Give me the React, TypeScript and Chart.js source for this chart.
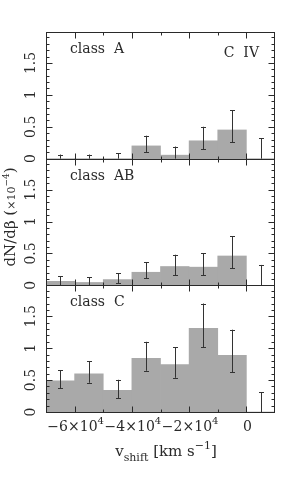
import React, { useEffect, useRef } from 'react';
import { Chart, registerables } from 'chart.js';

Chart.register(...registerables);

// ---- data ----
const binCenters = [-65000, -55000, -45000, -35000, -25000, -15000, -5000, 5000];

const classA = [0, 0, 0, 0.2, 0.055, 0.28, 0.45, 0];
const classAHi = [0.065, 0.065, 0.085, 0.36, 0.19, 0.5, 0.76, 0.32];
const classALo = [0, 0, 0, 0.105, 0, 0.15, 0.26, 0];

const classAB = [0.063, 0.045, 0.09, 0.205, 0.295, 0.285, 0.46, 0];
const classABHi = [0.14, 0.127, 0.19, 0.36, 0.48, 0.5, 0.77, 0.32];
const classABLo = [0, 0, 0.036, 0.11, 0.16, 0.16, 0.27, 0];

const classC = [0.49, 0.6, 0.34, 0.84, 0.745, 1.31, 0.89, 0];
const classCHi = [0.656, 0.797, 0.505, 1.1, 1.016, 1.7, 1.29, 0.31];
const classCLo = [0.37, 0.458, 0.219, 0.646, 0.536, 1.016, 0.62, 0];

const yTickValues = [0, 0.5, 1, 1.5];
const yTickLabels = ['0', '0.5', '1', '1.5'];
const xTickValues = [-60000, -40000, -20000, 0];
const xTickMantissa = ['\u22126', '\u22124', '\u22122', '0'];
const xTickExponent = ['4', '4', '4', ''];

const panelLabels = ['class A', 'class AB', 'class C'];
const ionLabel = 'C  IV';

const X_MIN = -70000;
const X_MAX = 10000;
const PANEL_MAX = 1.985;

const FONT = '"DejaVu Serif", "Liberation Serif", serif';
const INK = '#2a2a2a';
const BAR = '#a9a9a9';

type Part = { text: string; size: number; dy: number };

function drawRich(ctx: CanvasRenderingContext2D, parts: Part[], x: number, y: number) {
  let total = 0;
  const widths: number[] = [];
  for (const p of parts) {
    ctx.font = `${p.size}px ${FONT}`;
    const w = ctx.measureText(p.text).width;
    widths.push(w);
    total += w;
  }
  let cx = x - total / 2;
  ctx.textAlign = 'left';
  ctx.textBaseline = 'alphabetic';
  parts.forEach((p, i) => {
    ctx.font = `${p.size}px ${FONT}`;
    ctx.fillText(p.text, cx, y + p.dy);
    cx += widths[i];
  });
}

const panelDefs = [
  { id: 'yA', values: classA, hi: classAHi, lo: classALo },
  { id: 'yB', values: classAB, hi: classABHi, lo: classABLo },
  { id: 'yC', values: classC, hi: classCHi, lo: classCLo },
];

const framePlugin = {
  id: 'framePlugin',
  afterDatasetsDraw(chart: any) {
    const ctx: CanvasRenderingContext2D = chart.ctx;
    const xs = chart.scales.x;
    const left = Math.round(xs.getPixelForValue(X_MIN)) + 0.5;
    const right = Math.round(xs.getPixelForValue(X_MAX)) - 0.5;
    ctx.save();
    ctx.strokeStyle = INK;
    ctx.fillStyle = INK;
    ctx.lineWidth = 1;

    panelDefs.forEach((p, pi) => {
      const ys = chart.scales[p.id];
      const top = Math.round(ys.getPixelForValue(PANEL_MAX)) + 0.5;
      const bottom = Math.round(ys.getPixelForValue(0)) + 0.5;

      // error bars
      ctx.strokeStyle = '#333';
      ctx.lineWidth = 1;
      binCenters.forEach((c, i) => {
        const x = Math.round(xs.getPixelForValue(c)) + 0.5;
        const yh = ys.getPixelForValue(p.hi[i]);
        const yl = ys.getPixelForValue(p.lo[i]);
        ctx.beginPath();
        ctx.moveTo(x, yh);
        ctx.lineTo(x, yl);
        ctx.moveTo(x - 2.5, Math.round(yh) + 0.5);
        ctx.lineTo(x + 2.5, Math.round(yh) + 0.5);
        if (p.lo[i] > 0) {
          ctx.moveTo(x - 2.5, Math.round(yl) + 0.5);
          ctx.lineTo(x + 2.5, Math.round(yl) + 0.5);
        }
        ctx.stroke();
      });

      ctx.strokeStyle = INK;
      // frame
      ctx.lineWidth = 1;
      ctx.strokeRect(left, top, right - left, bottom - top);

      // y ticks (minor every 0.1, major every 0.5)
      ctx.beginPath();
      for (let k = 1; k <= 19; k++) {
        const v = k / 10;
        const y = Math.round(ys.getPixelForValue(v)) + 0.5;
        const len = k % 5 === 0 ? 6 : 3;
        ctx.moveTo(left, y);
        ctx.lineTo(left + len, y);
        ctx.moveTo(right, y);
        ctx.lineTo(right - len, y);
      }
      // x ticks
      for (let v = X_MIN + 10000; v < X_MAX; v += 10000) {
        const x = Math.round(xs.getPixelForValue(v)) + 0.5;
        const len = (v / 10000) % 2 === 0 ? 6 : 3;
        ctx.moveTo(x, top);
        ctx.lineTo(x, top + len);
        ctx.moveTo(x, bottom);
        ctx.lineTo(x, bottom - len);
      }
      ctx.stroke();

      // y tick labels (rotated)
      ctx.font = `14px ${FONT}`;
      yTickValues.forEach((v, i) => {
        const y = ys.getPixelForValue(v);
        ctx.save();
        ctx.translate(31, y);
        ctx.rotate(-Math.PI / 2);
        ctx.textAlign = 'center';
        ctx.textBaseline = 'middle';
        ctx.fillText(yTickLabels[i], 0, 0);
        ctx.restore();
      });

      // panel label
      ctx.font = `14px ${FONT}`;
      ctx.textAlign = 'left';
      ctx.textBaseline = 'alphabetic';
      ctx.fillText(panelLabels[pi].replace(' ', '  '), 70, top + 20.5);
      if (pi === 0) {
        ctx.textAlign = 'right';
        ctx.fillText(ionLabel, 259, top + 24.5);
      }

      // x tick labels on bottom panel
      if (pi === panelDefs.length - 1) {
        xTickValues.forEach((v, i) => {
          const x = xs.getPixelForValue(v);
          const parts: Part[] = [{ text: xTickMantissa[i], size: 14, dy: 0 }];
          if (xTickExponent[i]) {
            parts.push({ text: '\u00d710', size: 14, dy: 0 });
            parts.push({ text: xTickExponent[i], size: 10, dy: -7 });
          }
          drawRich(ctx, parts, x + 1, bottom + 18.5);
        });
      }
    });

    // x title
    drawRich(
      ctx,
      [
        { text: 'v', size: 15, dy: 0 },
        { text: 'shift', size: 11, dy: 5 },
        { text: ' [km s', size: 15, dy: 0 },
        { text: '\u22121', size: 11, dy: -7 },
        { text: ']', size: 15, dy: 0 },
      ],
      166,
      456
    );

    // y title (rotated)
    ctx.save();
    ctx.translate(15, 217);
    ctx.rotate(-Math.PI / 2);
    drawRich(
      ctx,
      [
        { text: 'dN/d\u03b2 (', size: 15, dy: 0 },
        { text: '\u00d710', size: 11, dy: 0 },
        { text: '\u22124', size: 9, dy: -6 },
        { text: ')', size: 15, dy: 0 },
      ],
      0,
      0
    );
    ctx.restore();

    ctx.restore();
  },
};

export default function App() {
  const ref = useRef<HTMLCanvasElement | null>(null);

  useEffect(() => {
    if (!ref.current) return;
    const mk = (vals: number[]) => binCenters.map((c, i) => ({ x: c, y: vals[i] }));
    const chart = new Chart(ref.current, {
      type: 'bar',
      data: {
        datasets: [
          { data: mk(classA), yAxisID: 'yA' },
          { data: mk(classAB), yAxisID: 'yB' },
          { data: mk(classC), yAxisID: 'yC' },
        ].map((d) => ({
          ...d,
          xAxisID: 'x',
          backgroundColor: BAR,
          borderWidth: 0,
          barPercentage: 1,
          categoryPercentage: 1,
          grouped: false,
        })) as any,
      },
      options: {
        responsive: false,
        maintainAspectRatio: false,
        animation: false,
        events: [],
        layout: { padding: { left: 46, right: 30, top: 32, bottom: 74 } },
        plugins: { legend: { display: false }, tooltip: { enabled: false } },
        scales: {
          x: { type: 'linear', offset: false, min: X_MIN, max: X_MAX, display: false, ticks: { stepSize: 10000 } },
          yA: { type: 'linear', min: -2 * PANEL_MAX, max: PANEL_MAX, display: false },
          yB: { type: 'linear', min: -PANEL_MAX, max: 2 * PANEL_MAX, display: false },
          yC: { type: 'linear', min: 0, max: 3 * PANEL_MAX, display: false },
        },
      } as any,
      plugins: [framePlugin],
    });
    return () => chart.destroy();
  }, []);

  return (
    <div style={{ position: 'absolute', left: 0, top: 0, width: 305, height: 486, background: '#fff' }}>
      <canvas ref={ref} width={305} height={486} style={{ display: 'block', width: 305, height: 486 }} />
    </div>
  );
}
